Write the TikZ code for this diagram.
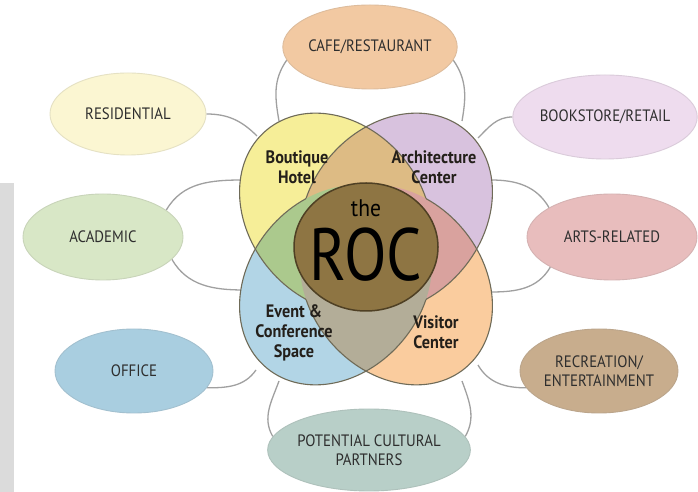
\documentclass[tikz,border=0pt]{standalone}
\usepackage{fontspec}
\setmainfont[FakeStretch=0.9]{PT Sans}
\newfontfamily\rocfont[FakeStretch=0.84]{PT Sans}
\usetikzlibrary{shapes.geometric, backgrounds, calc}
\definecolor{HotelFill}{HTML}{F6EE98}
\definecolor{ArchFill}{HTML}{D8C2DE}
\definecolor{EventFill}{HTML}{B2D5E6}
\definecolor{VisitorFill}{HTML}{FACC9E}
\definecolor{TanFill}{HTML}{DDBB84}
\definecolor{GreenFill}{HTML}{ABC98D}
\definecolor{PinkFill}{HTML}{D9A29E}
\definecolor{GrayFill}{HTML}{B3AD98}
\definecolor{RocFill}{HTML}{8E7543}
\definecolor{RocEdge}{HTML}{4F4024}
\definecolor{PetalEdge}{HTML}{6F6B58}
\definecolor{LinkGray}{HTML}{A0A0A0}
\definecolor{LabelText}{HTML}{2E2E2E}
\definecolor{PetalText}{HTML}{231F1A}
\definecolor{CafeFill}{HTML}{F2C9A2}
\definecolor{ResFill}{HTML}{FBF6D2}
\definecolor{BookFill}{HTML}{EEDCEE}
\definecolor{AcaFill}{HTML}{D8E7C6}
\definecolor{ArtsFill}{HTML}{E8BDBD}
\definecolor{OfficeFill}{HTML}{A9CEE0}
\definecolor{RecFill}{HTML}{C8AD8D}
\definecolor{PartFill}{HTML}{B8CFC8}
\tikzset{
    outer/.style={ellipse, inner sep=0pt, align=center, fill=#1, draw=#1!82!gray, line width=0.9pt, text=LabelText, font=\fontsize{16.5}{19}\selectfont},
    link/.style={draw=LinkGray, line width=1.3pt},
    petalline/.style={draw=PetalEdge, line width=1.1pt},
    petaltext/.style={align=center, text=PetalText, font=\bfseries\fontsize{18}{20}\selectfont},
}
\newcommand{\hotelshape}{[rotate around={-50:(hc)}] (hc) ellipse (108 and 87)}
\newcommand{\archshape}{[rotate around={50:(ac)}] (ac) ellipse (108 and 87)}
\newcommand{\eventshape}{[rotate around={50:(ec)}] (ec) ellipse (108 and 87)}
\newcommand{\visitorshape}{[rotate around={-50:(vc)}] (vc) ellipse (108 and 87)}
\begin{document}
\begin{tikzpicture}[x=1pt, y=1pt]
    \useasboundingbox (0,0) rectangle (698,492);

    % petal centres
    \coordinate (c) at (366,243);
    \coordinate (hc) at ($(c)+(130:47)$);
    \coordinate (ac) at ($(c)+(50:47)$);
    \coordinate (ec) at ($(c)+(230:47)$);
    \coordinate (vc) at ($(c)+(310:47)$);

    % petals
    \fill[HotelFill] \hotelshape;
    \fill[ArchFill] \archshape;
    \fill[EventFill] \eventshape;
    \fill[VisitorFill] \visitorshape;
    \begin{scope}
        \clip \hotelshape;
        \fill[TanFill] \archshape;
        \fill[GreenFill] \eventshape;
    \end{scope}
    \begin{scope}
        \clip \visitorshape;
        \fill[PinkFill] \archshape;
        \fill[GrayFill] \eventshape;
    \end{scope}
    % outlines, left out inside the opposite petal
    \begin{scope}[even odd rule]
        \clip (0,0) rectangle (698,492) \visitorshape;
        \draw[petalline] \hotelshape;
    \end{scope}
    \begin{scope}[even odd rule]
        \clip (0,0) rectangle (698,492) \hotelshape;
        \draw[petalline] \visitorshape;
    \end{scope}
    \begin{scope}[even odd rule]
        \clip (0,0) rectangle (698,492) \eventshape;
        \draw[petalline] \archshape;
    \end{scope}
    \begin{scope}[even odd rule]
        \clip (0,0) rectangle (698,492) \archshape;
        \draw[petalline] \eventshape;
    \end{scope}

    % the ROC
    \fill[RocFill, draw=RocEdge, line width=1.5pt] (366,245) ellipse (72 and 64);
    \node[text=black, font=\fontsize{24}{24}\selectfont] (the) at (366,284) {the};
    \node[text=black, font=\rocfont\fontsize{74}{74}\selectfont] (roc) at (366,237) {ROC};

    \node[petaltext] (hotel) at (297,325) {Boutique\\Hotel};
    \node[petaltext] (arch) at (434,325) {Architecture\\Center};
    \node[petaltext] (event) at (294,159) {Event \&\\Conference\\Space};
    \node[petaltext] (visitor) at (436,160) {Visitor\\Center};

    % outer uses
    \node[outer=CafeFill, minimum width=170pt, minimum height=84pt] (cafe) at (370,445) {CAFE/RESTAURANT};
    \node[outer=ResFill, minimum width=156pt, minimum height=82pt] (res) at (128,378) {RESIDENTIAL};
    \node[outer=BookFill, minimum width=154pt, minimum height=84pt] (book) at (605,375) {BOOKSTORE/RETAIL};
    \node[outer=AcaFill, minimum width=160pt, minimum height=86pt] (aca) at (103,255) {ACADEMIC};
    \node[outer=ArtsFill, minimum width=170pt, minimum height=86pt] (arts) at (612,255) {ARTS-RELATED};
    \node[outer=OfficeFill, minimum width=158pt, minimum height=84pt] (office) at (134,121) {OFFICE};
    \node[outer=RecFill, minimum width=158pt, minimum height=84pt] (rec) at (599,121) {RECREATION/\\ENTERTAINMENT};
    \node[outer=PartFill, minimum width=174pt, minimum height=82pt] (part) at (369,42) {POTENTIAL CULTURAL\\PARTNERS};

    % connector ends on the petals
    \coordinate (h-cafe) at (279,371);
    \coordinate (h-res) at (257,356);
    \coordinate (h-aca) at (244,312);
    \coordinate (a-cafe) at (462,371);
    \coordinate (a-book) at (478,354);
    \coordinate (a-arts) at (491,312);
    \coordinate (e-aca) at (244,202);
    \coordinate (e-office) at (256,122);
    \coordinate (e-part) at (279,111);
    \coordinate (v-arts) at (491,200);
    \coordinate (v-rec) at (478,127);
    \coordinate (v-part) at (462,111);

    \begin{scope}[on background layer]
        \fill[white] (0,0) rectangle (698,492);
        % strip at the left edge
        \fill[gray!28] (0,0) rectangle (14,309);
        \draw[link] (cafe.189) to[out=235, in=100] (h-cafe);
        \draw[link] (cafe.351) to[out=-55, in=80] (a-cafe);
        \draw[link] (res.east) to[out=0, in=135] (h-res);
        \draw[link] (book.west) to[out=180, in=45] (a-book);
        \draw[link] (aca.23) to[out=60, in=180] (h-aca);
        \draw[link] (aca.342) to[out=-60, in=180] (e-aca);
        \draw[link] (arts.155) to[out=120, in=0] (a-arts);
        \draw[link] (arts.206) to[out=240, in=0] (v-arts);
        \draw[link] (office.347) to[out=0, in=235] (e-office);
        \draw[link] (rec.193) to[out=180, in=-60] (v-rec);
        \draw[link] (part.172) to[out=120, in=250] (e-part);
        \draw[link] (part.8) to[out=60, in=-70] (v-part);
    \end{scope}
\end{tikzpicture}
\end{document}
